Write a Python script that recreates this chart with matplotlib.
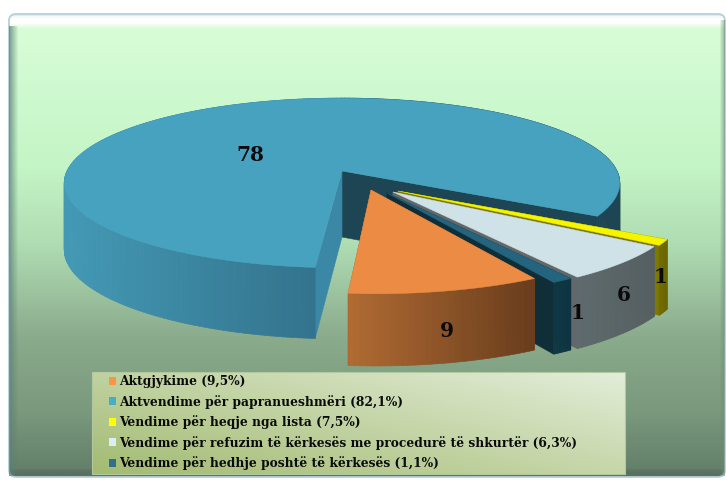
import numpy as np
import matplotlib
matplotlib.use("Agg")
import matplotlib.pyplot as plt
from matplotlib.patches import FancyBboxPatch, Polygon, Patch, Rectangle
from matplotlib.collections import PolyCollection
from matplotlib.colors import LinearSegmentedColormap, to_rgb

# ---- data ----
values = [9, 78, 1, 6, 1]
legend_labels = ["Aktgjykime (9,5%)", "Aktvendime për papranueshmëri (82,1%)",
                 "Vendime për heqje nga lista (7,5%)",
                 "Vendime për refuzim të kërkesës me procedurë të shkurtër (6,3%)",
                 "Vendime për hedhje poshtë të kërkesës (1,1%)"]
value_labels = ["9", "78", "1", "6", "1"]

# ---- styles / layout ----
legend_colors = ["#f79646", "#4bacc6", "#ffff00", "#dbeef4", "#31708c"]
top_colors = ["#ec8c44", "#46a2bf", "#f5f500", "#cfe2e7", "#25647f"]
wall_colors = [("#b06a32", "#673c1c"), ("#4399b5", "#33728c"), ("#736d00", "#6a6500"),
               ("#5e6a6d", "#555f61"), ("#0f3844", "#0f3442")]
cut_colors = ["#a5622d", "#3a88a6", "#7d7800", "#62686a", "#102e38"]
apex_pix = [(371, 190), (342, 171), (398, 191), (393, 192), (387, 193)]
label_pix = [(447, 331), (250, 155), (661, 277), (624, 295), (578, 313)]
CX, CY, RX, RY, K = 342.0, 171.0, 275.0, 83.2, 0.141
START = -94.8


def proj(x, y):
    d = 1 + K * y
    return CX + RX * x / d, CY - RY * y / d


def unproj(px, py):
    Y = CY - py
    y = Y / (RY - K * Y)
    x = (px - CX) * (1 + K * y) / RX
    return x, y


def depth(x, y):
    return 66 / (1 + 0.5 * K * y)


plt.rcParams["font.family"] = ["DejaVu Serif"]
fig = plt.figure(figsize=(7.26, 4.8), dpi=100)
ax = fig.add_axes([0, 0, 1, 1])
ax.set_xlim(0, 726)
ax.set_ylim(480, 0)
ax.axis("off")

# background panel
stops = [(0.0, "#d9f2ea"), (0.006, "#ffffff"), (0.016, "#ffffff"), (0.028, "#d7fdd7"), (0.33, "#c4f5c6"),
         (0.5, "#afdcb2"), (0.7, "#8aab8c"), (0.86, "#7a997d"), (0.985, "#64806a"), (0.99, "#5a7060"),
         (1.0, "#5a7060")]
cm = LinearSegmentedColormap.from_list("bg", stops)
panel = FancyBboxPatch((9, 14), 716, 463, boxstyle="round,pad=0,rounding_size=7",
                       fc="none", ec="#b5d0d8", lw=1.3, zorder=2)
ax.add_patch(panel)
im = ax.imshow(np.linspace(0, 1, 480)[:, None], extent=(9, 725, 477, 14), cmap=cm,
               aspect="auto", zorder=1, vmin=0, vmax=1)
im.set_clip_path(panel)
left = np.zeros((1, 10, 4))
left[0, :, :3] = to_rgb("#5e7f78")
left[0, :, 3] = np.linspace(0.75, 0, 10)
ax.imshow(left, extent=(9, 19, 476, 26), aspect="auto", zorder=2, interpolation="bilinear")
right = np.zeros((1, 6, 4))
right[0, :, :3] = to_rgb("#6c8c70")
right[0, :, 3] = np.linspace(0, 0.6, 6)
ax.imshow(right, extent=(719, 725, 476, 20), aspect="auto", zorder=2, interpolation="bilinear")
ax.set_xlim(0, 726)
ax.set_ylim(480, 0)


def lerp(c1, c2, f):
    a, b = np.array(to_rgb(c1)), np.array(to_rgb(c2))
    return tuple(a + (b - a) * f)


def draw_slice(i, t0, t1, ox, oy, zbase):
    ts = np.radians(np.linspace(t0, t1, max(12, int(abs(t1 - t0)))))
    xs, ys = np.cos(ts) + ox, np.sin(ts) + oy
    px, py = proj(xs, ys)
    dz = depth(xs, ys)
    ap = proj(ox, oy)
    adz = depth(ox, oy)
    # cut faces
    for k, col in ((0, "#1e4553" if i == 1 else cut_colors[i]), (-1, cut_colors[i])):
        quad = [ap, (px[k], py[k]), (px[k], py[k] + dz[k]), (ap[0], ap[1] + adz)]
        ax.add_patch(Polygon(quad, closed=True, fc=col, ec=col, lw=0.4, zorder=zbase))
    # outer wall
    quads, cols = [], []
    for j in range(len(ts) - 1):
        quads.append([(px[j], py[j]), (px[j + 1], py[j + 1]),
                      (px[j + 1], py[j + 1] + dz[j + 1]), (px[j], py[j] + dz[j])])
        if i == 1:
            mx = px[j]
            cols.append(to_rgb("#1e4553") if mx > 342
                        else lerp(wall_colors[1][0], wall_colors[1][1], np.clip((mx - 64) / 252, 0, 1)))
        else:
            f = (px[j] - px.min()) / max(px.max() - px.min(), 1)
            cols.append(lerp(wall_colors[i][0], wall_colors[i][1], f))
    ax.add_collection(PolyCollection(quads, facecolors=cols, edgecolors=cols, linewidths=0.5,
                                     zorder=zbase + 0.1))
    # top face
    poly = [ap] + list(zip(px, py))
    ax.add_patch(Polygon(poly, closed=True, fc=top_colors[i], ec=top_colors[i], lw=0.3,
                         zorder=zbase + 0.2))


# angular extents follow the values, running clockwise on screen
sweeps = [360 * v / sum(values) for v in values]
order = [1, 2, 3, 4, 0]
ang = {}
t = START
for i in (0, 4, 3, 2, 1):  # counter-clockwise from the front
    ang[i] = (t, t + sweeps[i])
    t += sweeps[i]
for z, i in enumerate(order):
    ox, oy = unproj(*apex_pix[i])
    a0, a1 = ang[i]
    draw_slice(i, a0, a1, ox, oy, 3 + z)

for (lx, ly), s in zip(label_pix, value_labels):
    ax.text(lx, ly, s, ha="center", va="center", fontsize=14.5, fontweight="bold",
            color="#0a0a0a", zorder=12)

# legend
lg_cm = LinearSegmentedColormap.from_list("lg", ["#a3bb72", "#e3edd8"])
yy, xx = np.mgrid[0:1:40j, 0:1:160j]
ax.imshow((xx * 0.55 + (1 - yy) * 0.45), extent=(92, 625, 474, 372), cmap=lg_cm, aspect="auto", zorder=13)
ax.add_patch(Rectangle((92, 372), 533, 102, fc="none", ec="#b4c8a0", lw=0.8, zorder=13.1))
ax.set_xlim(0, 726)
ax.set_ylim(480, 0)
handles = [Patch(fc=c, ec="none") for c in legend_colors]
leg = ax.legend(handles, legend_labels, loc="upper left", bbox_to_anchor=(105 / 726, 1 - 371.5 / 480),
                bbox_transform=ax.transAxes, frameon=False, fontsize=8.8, handlelength=0.6,
                handleheight=0.6, handletextpad=0.25, labelspacing=0.54, borderpad=0.3, borderaxespad=0)
leg.set_zorder(14)
for tx in leg.get_texts():
    tx.set_fontweight("bold")
    tx.set_color("#0a0a0a")

fig.savefig("out.png", dpi=100, facecolor="white")
